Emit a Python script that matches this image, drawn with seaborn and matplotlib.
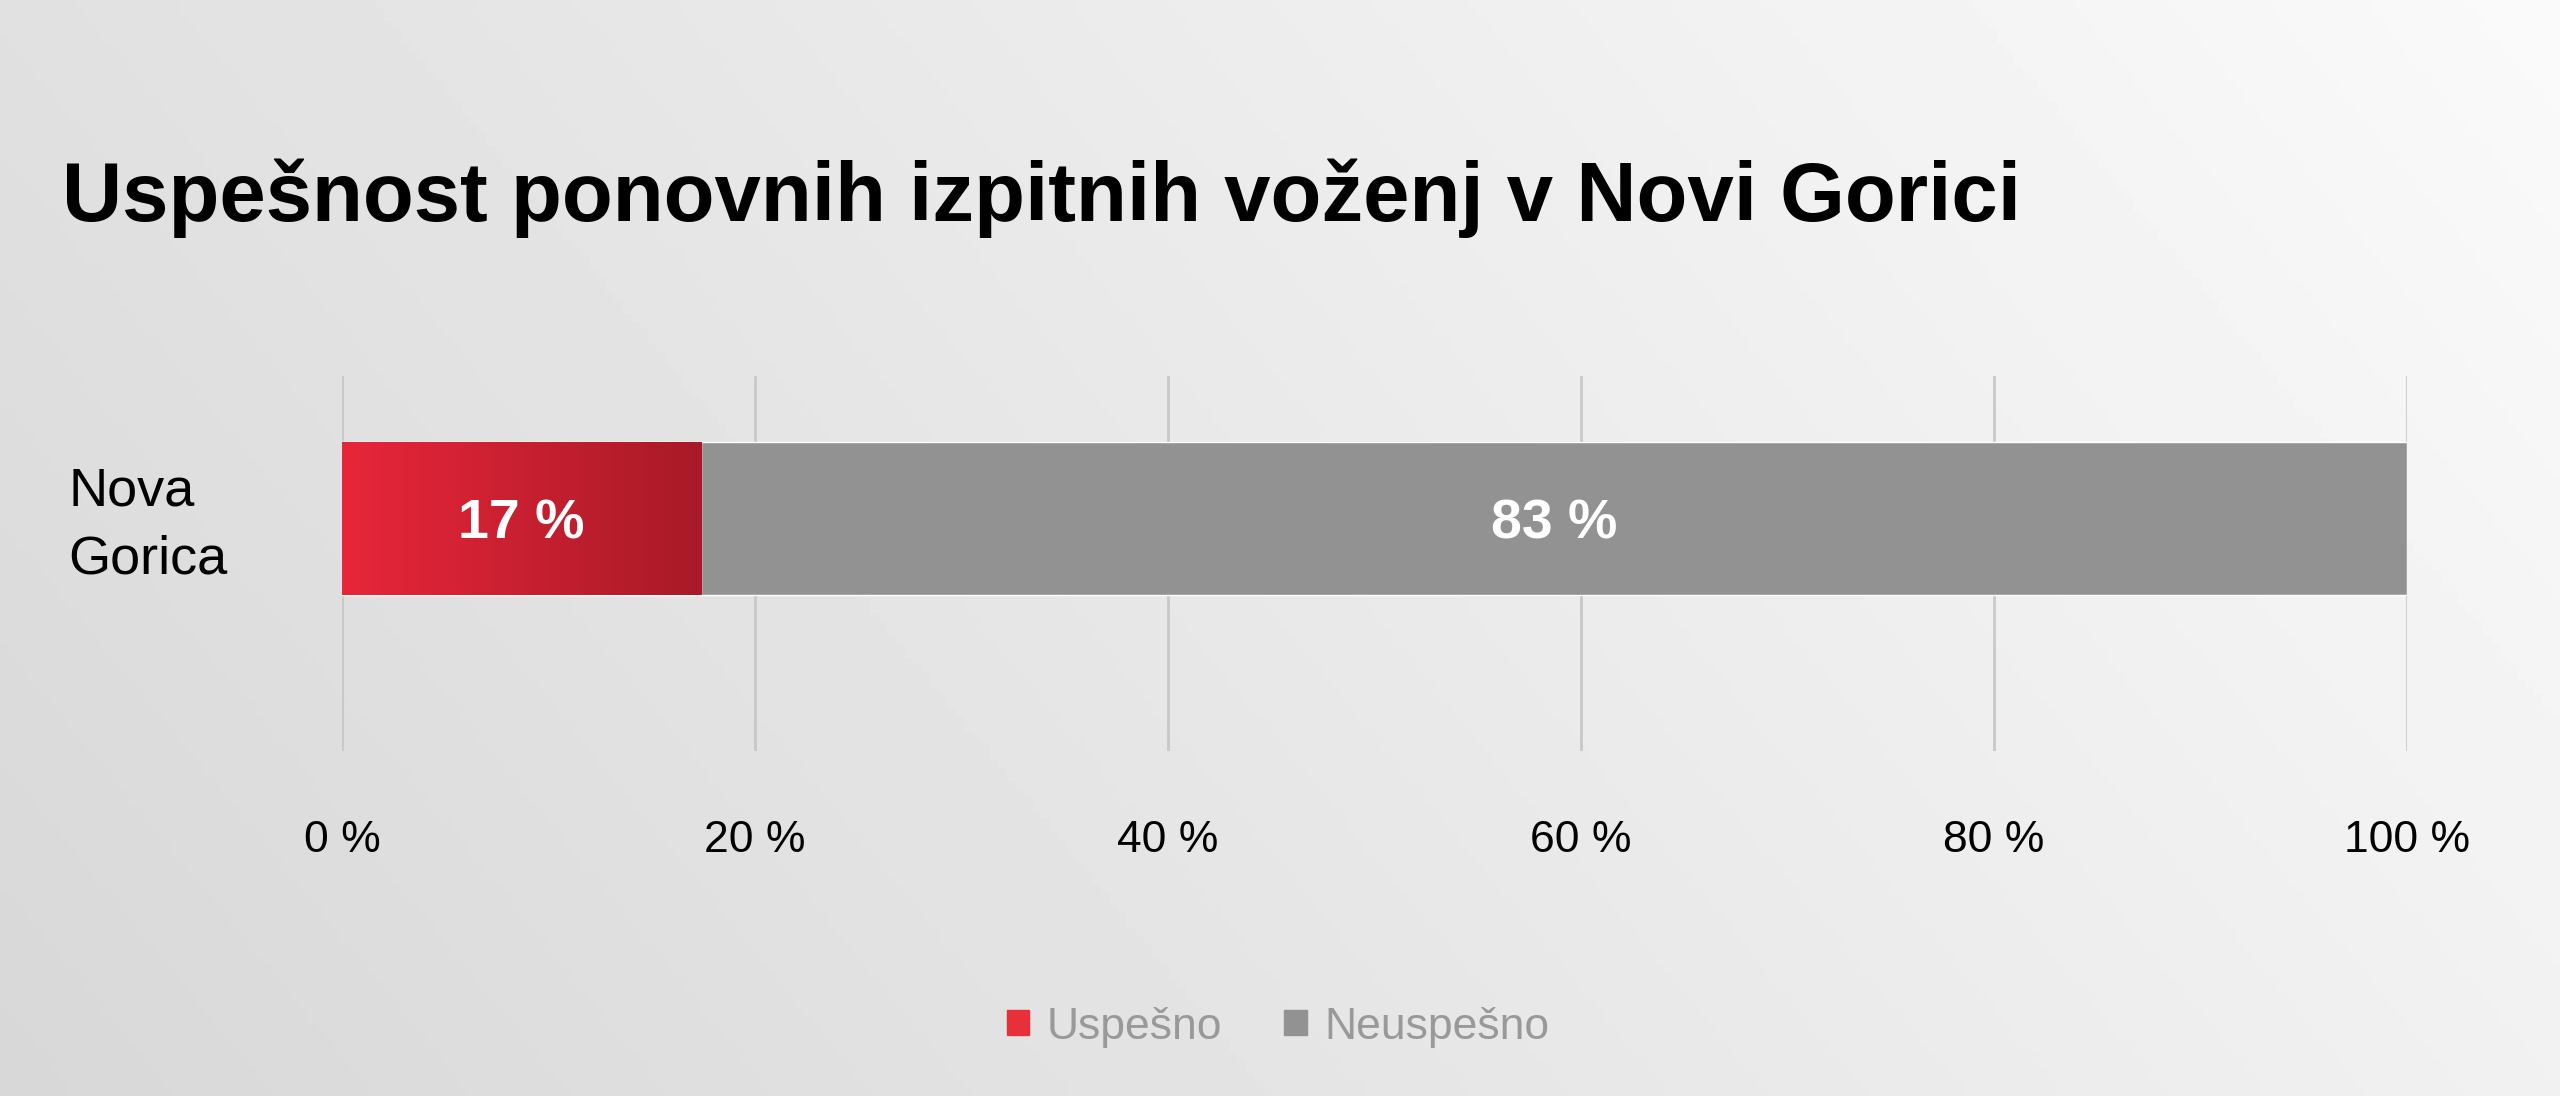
import matplotlib
matplotlib.use("Agg")
import matplotlib.pyplot as plt
import matplotlib.patches as mpatches
import matplotlib.transforms as mtransforms
from matplotlib.colors import LinearSegmentedColormap
import numpy as np
import pandas as pd
import seaborn as sns

# podatki
kraji = ["Nova\nGorica"]
uspesno = [17.4]
neuspesno = [82.6]
skupine = ["Uspešno", "Neuspešno"]
x_ticks = [0, 20, 40, 60, 80, 100]
naslov = "Uspešnost ponovnih izpitnih voženj v Novi Gorici"

df = pd.DataFrame({"kraj": kraji, "Uspešno": uspesno, "Neuspešno": neuspesno})
df["skupaj"] = df["Uspešno"] + df["Neuspešno"]

sns.set_theme(style="white")
plt.rcParams["font.family"] = ["Liberation Sans", "DejaVu Sans"]

fig = plt.figure(figsize=(25.6, 10.96), dpi=100)

# ozadje z rahlim prelivom
bg = fig.add_axes([0, 0, 1, 1], zorder=-10)
gx, gy = np.meshgrid(np.linspace(0, 1, 300), np.linspace(0, 1, 150))
val = 0.845 + 0.10 * gx + 0.035 * gy
bg.imshow(val, cmap="gray", vmin=0, vmax=1, aspect="auto", origin="lower",
          extent=[0, 1, 0, 1])
bg.axis("off")

ax = fig.add_axes([342 / 2560, 0.3148, (2407 - 342) / 2560, 0.3422])
ax.patch.set_alpha(0)

# skupaj (sivo) in uspesno (rdece) cez
sns.barplot(data=df, y="kraj", x="skupaj", color="#929292", width=0.4,
            saturation=1, ax=ax, zorder=3)
sns.barplot(data=df, y="kraj", x="Uspešno", color="#d8212f", width=0.4,
            saturation=1, ax=ax, zorder=4)

# rdeci preliv
red_cmap = LinearSegmentedColormap.from_list("rd", ["#e8263a", "#a81a27"])
grad = np.linspace(0, 1, 256).reshape(1, -1)
red_bar = ax.patches[1]
bx, by = red_bar.get_x(), red_bar.get_y()
bw, bh = red_bar.get_width(), red_bar.get_height()
im = ax.imshow(grad, cmap=red_cmap, aspect="auto",
               extent=[bx, bx + bw, by + bh, by], zorder=5)
im.set_clip_path(red_bar)

ax.set_xlim(0, 100)
ax.set_ylim(0.6075, -0.3725)
ax.set_xticks(x_ticks)
ax.set_xticklabels([f"{t} %" for t in x_ticks])
ax.tick_params(axis="x", length=0, pad=50, labelsize=32, colors="black")
ax.tick_params(axis="y", length=0, pad=197, labelsize=39, colors="black")
premik = mtransforms.ScaledTranslation(0, 7 / 100, fig.dpi_scale_trans)
for lab in ax.get_yticklabels():
    lab.set_horizontalalignment("left")
    lab.set_linespacing(1.45)
    lab.set_transform(lab.get_transform() + premik)
ax.set_xlabel("")
ax.set_ylabel("")
ax.grid(axis="x", color="#c8c8c8", linewidth=2, zorder=0)
ax.grid(axis="y", visible=False)
for s in ax.spines.values():
    s.set_visible(False)

# oznake vrednosti
for i, row in df.iterrows():
    ax.text(row["Uspešno"] / 2, i, f"{row['Uspešno']:.0f} %", ha="center",
            va="center_baseline", color="white", fontsize=40,
            fontweight="bold", zorder=6)
    ax.text(row["Uspešno"] + row["Neuspešno"] / 2, i, f"{row['Neuspešno']:.0f} %",
            ha="center", va="center_baseline", color="white", fontsize=40,
            fontweight="bold", zorder=6)

fig.text(62 / 2560, 1 - 198 / 1096, naslov, fontsize=60, fontweight="bold",
         va="center", ha="left", color="black")

handles = [mpatches.Patch(color="#e8303a", label=skupine[0]),
           mpatches.Patch(color="#929292", label=skupine[1])]
fig.legend(handles=handles, loc="center", bbox_to_anchor=(1278 / 2560, 1 - 1027 / 1096),
           ncol=2, frameon=False, fontsize=32, labelcolor="#999999",
           handlelength=0.5, handleheight=0.5, handletextpad=0.4,
           columnspacing=1.4)

fig.savefig("out.png", dpi=100)
